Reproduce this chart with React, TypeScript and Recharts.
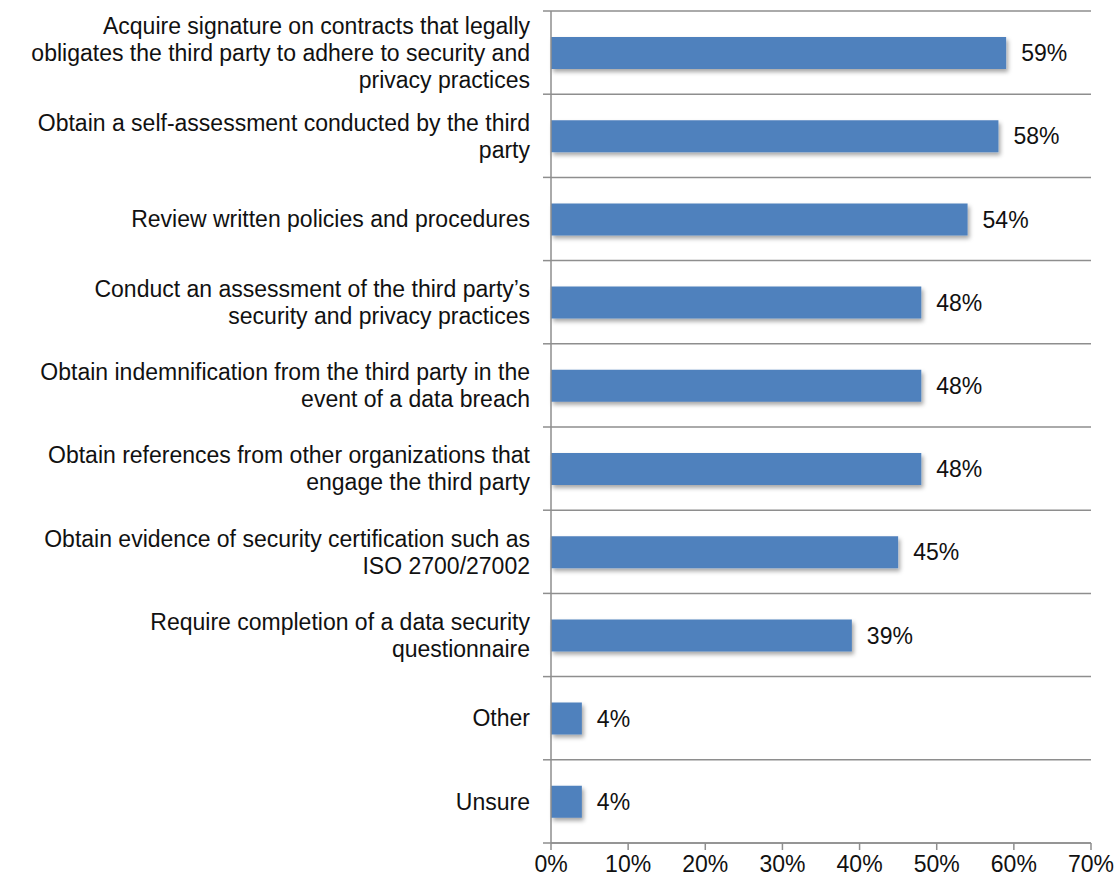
import React from "react";
import { BarChart, Bar, XAxis, YAxis, CartesianGrid, LabelList } from "recharts";

// data -----------------------------------------------------------------------
const categories = [
  "Acquire signature on contracts that legally|obligates the third party to adhere to security and|privacy practices",
  "Obtain a self-assessment conducted by the third|party",
  "Review written policies and procedures",
  "Conduct an assessment of the third party’s|security and privacy practices",
  "Obtain indemnification from the third party in the|event of a data breach",
  "Obtain references from other organizations that|engage the third party",
  "Obtain evidence of security certification such as|ISO 2700/27002",
  "Require completion of a data security|questionnaire",
  "Other",
  "Unsure",
];
const values = [59, 58, 54, 48, 48, 48, 45, 39, 4, 4];
const xTicks = [0, 10, 20, 30, 40, 50, 60, 70];

const data = categories.map((c, i) => ({ name: c, value: values[i] }));

// layout ---------------------------------------------------------------------
const W = 1120;
const H = 884;
const Y_AXIS_W = 551;
const MARGIN = { top: 11, right: 29, bottom: 0, left: 0 };
const X_AXIS_H = 41;
const PLOT_H = H - MARGIN.top - MARGIN.bottom - X_AXIS_H;
const BAND = PLOT_H / categories.length;
const AXIS = "#8e8e8e";
const FONT = "'Liberation Sans', Arial, sans-serif";
const FS = 23;
const LINE_H = 27;

const CategoryTick = (props: any) => {
  const { x, y, payload, index } = props;
  const lines: string[] = String(payload.value).split("|");
  const start = -((lines.length - 1) * LINE_H) / 2;
  return (
    <g>
      <line x1={x - 8} x2={x} y1={y - BAND / 2} y2={y - BAND / 2} stroke={AXIS} strokeWidth={1.5} />
      {index === categories.length - 1 && (
        <line x1={x - 8} x2={x} y1={y + BAND / 2} y2={y + BAND / 2} stroke={AXIS} strokeWidth={1.5} />
      )}
      <text x={x - 21} y={y} textAnchor="end" fontFamily={FONT} fontSize={FS} fill="#111">
        {lines.map((l, i) => (
          <tspan key={i} x={x - 21} y={y + start + i * LINE_H} dy="0.36em">
            {l}
          </tspan>
        ))}
      </text>
    </g>
  );
};

export default function App() {
  return (
    <div style={{ position: "absolute", left: 0, top: 0, background: "#fff" }}>
      <BarChart width={W} height={H} data={data} layout="vertical" margin={MARGIN}>
        <defs>
          <filter id="barShadow" x="-10%" y="-30%" width="130%" height="180%">
            <feDropShadow dx={2} dy={3} stdDeviation={2} floodColor="#000" floodOpacity={0.35} />
          </filter>
        </defs>
        <CartesianGrid
          vertical={false}
          stroke={AXIS}
          strokeWidth={1.5}
          horizontalCoordinatesGenerator={({ offset }: any) =>
            Array.from({ length: categories.length + 1 }, (_, i) => offset.top + (i * offset.height) / categories.length)
          }
        />
        <XAxis
          type="number"
          domain={[0, 70]}
          ticks={xTicks}
          tickFormatter={(v) => `${v}%`}
          height={X_AXIS_H}
          stroke={AXIS}
          strokeWidth={1.5}
          tickSize={7}
          tick={{ fill: "#111", fontSize: FS, fontFamily: FONT, dy: 4 }}
          interval={0}
        />
        <YAxis
          type="category"
          dataKey="name"
          width={Y_AXIS_W}
          stroke={AXIS}
          strokeWidth={1.5}
          tickLine={false}
          tickSize={0}
          tickMargin={0}
          tick={<CategoryTick />}
          interval={0}
        />
        <Bar dataKey="value" fill="#4f81bd" barSize={32} isAnimationActive={false} filter="url(#barShadow)">
          <LabelList
            dataKey="value"
            position="right"
            offset={15}
            formatter={(v: any) => `${v}%`}
            style={{ fontFamily: FONT, fontSize: FS, fill: "#111" }}
          />
        </Bar>
      </BarChart>
    </div>
  );
}
